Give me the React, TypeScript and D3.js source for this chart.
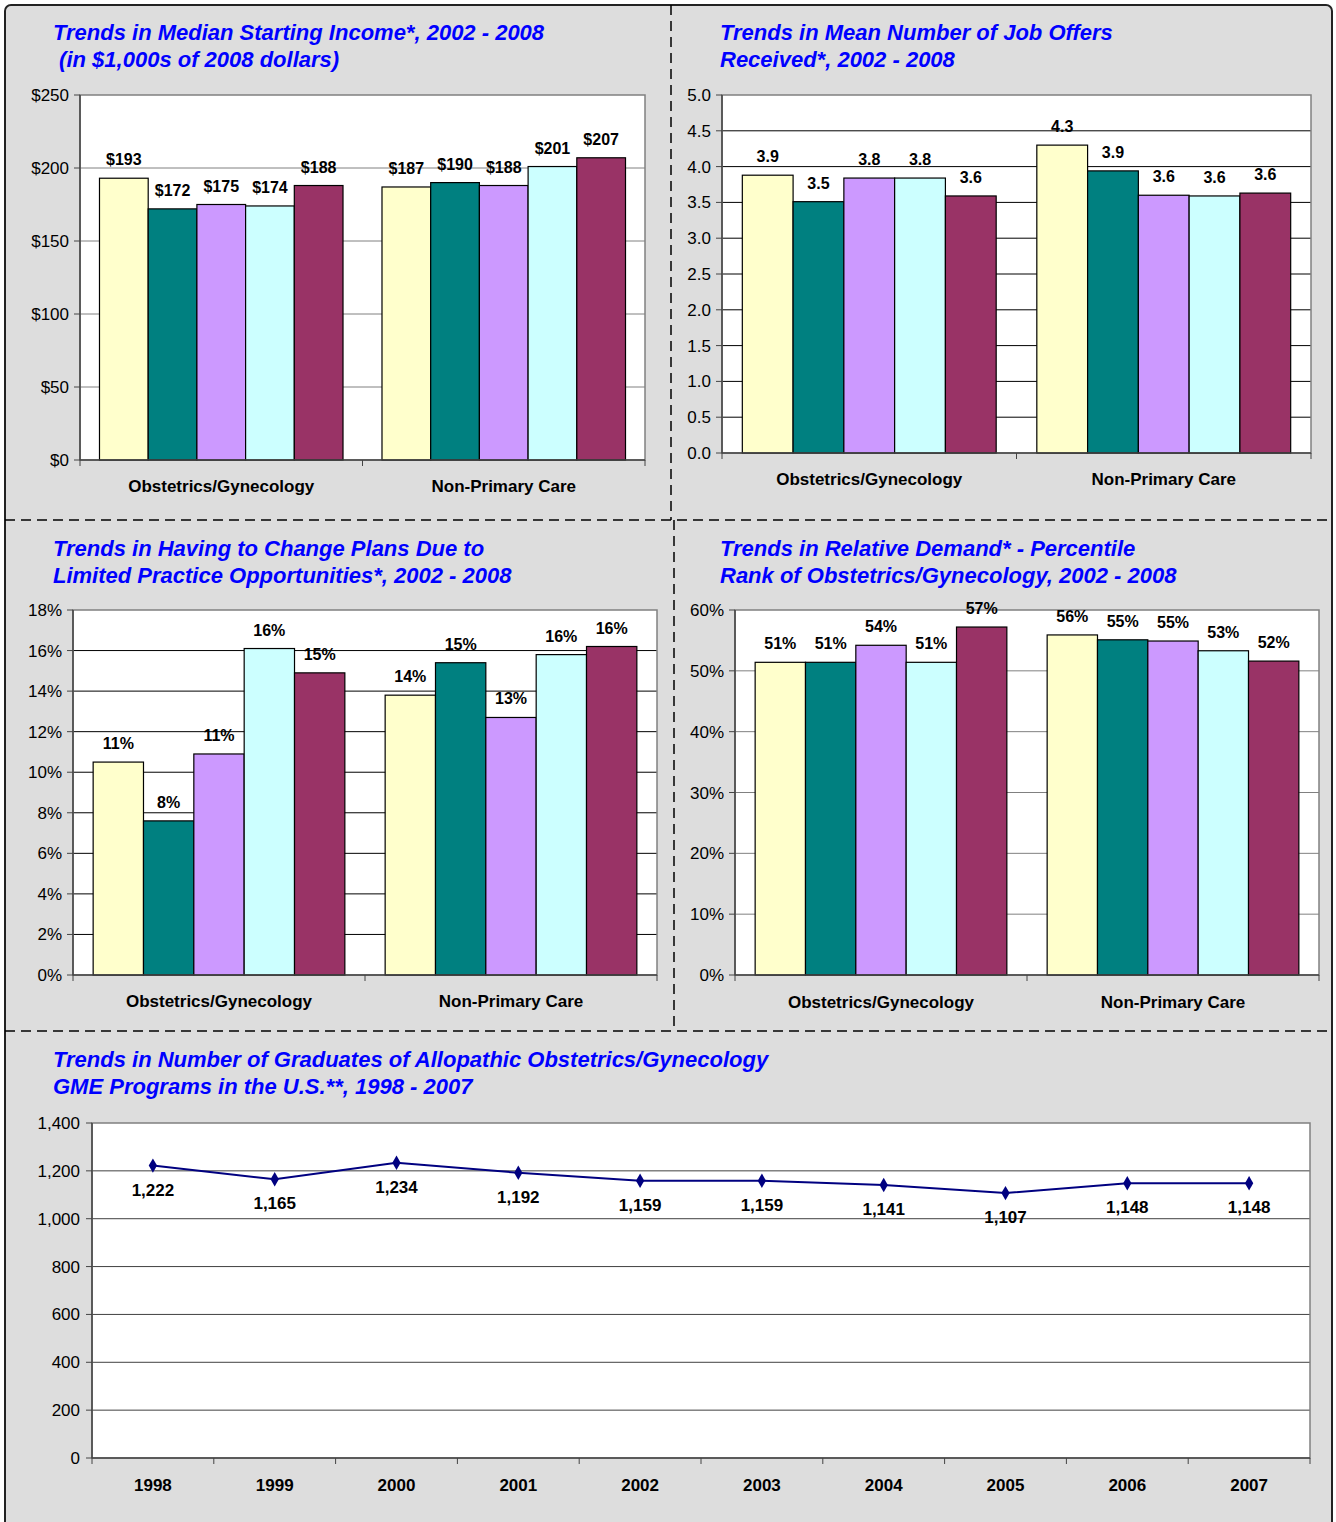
import React, { useEffect, useRef } from 'react';
import * as d3 from 'd3';

// bar series (5 survey years, no legend in the source) for each group
const groups = ['Obstetrics/Gynecology', 'Non-Primary Care'];
const seriesKeys = ['s1', 's2', 's3', 's4', 's5'];
const seriesColors = ['#FFFFCC', '#008080', '#CC99FF', '#CCFFFF', '#993366'];

const incomeOb = [193, 172, 175, 174, 188];
const incomeNp = [187, 190, 188, 201, 207];
const incomeTicks = [0, 50, 100, 150, 200, 250];

const offersOb = [3.88, 3.51, 3.84, 3.84, 3.59];
const offersNp = [4.3, 3.94, 3.6, 3.59, 3.63];
const offersTicks = [0, 0.5, 1, 1.5, 2, 2.5, 3, 3.5, 4, 4.5, 5];

const changeOb = [10.5, 7.6, 10.9, 16.1, 14.9];
const changeNp = [13.8, 15.4, 12.7, 15.8, 16.2];
const changeTicks = [0, 2, 4, 6, 8, 10, 12, 14, 16, 18];

const demandOb = [51.4, 51.4, 54.2, 51.4, 57.2];
const demandNp = [55.9, 55.1, 54.9, 53.3, 51.6];
const demandTicks = [0, 10, 20, 30, 40, 50, 60];

const gradYears = ['1998', '1999', '2000', '2001', '2002', '2003', '2004', '2005', '2006', '2007'];
const gradCounts = [1222, 1165, 1234, 1192, 1159, 1159, 1141, 1107, 1148, 1148];
const gradTicks = [0, 200, 400, 600, 800, 1000, 1200, 1400];

const FONT = '"Liberation Sans", Arial, sans-serif';
const W = 1336, H = 1522;

function drawTitle(svg, x, y, lines) {
  lines.forEach((t, i) => {
    svg.append('text')
      .attr('x', x).attr('y', y + i * 27)
      .style('font-family', FONT)
      .style('font-size', '22px')
      .style('font-weight', 'bold')
      .style('font-style', 'italic')
      .style('fill', '#0000FF')
      .attr('xml:space', 'preserve')
      .text(t);
  });
}

function drawBarPanel(svg, cfg) {
  const { left, right, top, bottom, ticks, fmt, labelFmt, data, grid, catY } = cfg;
  const g = svg.append('g');

  let y = d3.scaleLinear().domain([0, ticks[ticks.length - 1]]).range([bottom, top]);
  let x0 = d3.scaleBand().domain(groups).range([left, right]).padding(0);
  let bw = x0.bandwidth();
  let gap = bw * 0.069;
  let x1 = d3.scaleBand().domain(seriesKeys).range([gap, bw - gap]).padding(0);

  g.append('rect')
    .attr('x', left).attr('y', top)
    .attr('width', right - left).attr('height', bottom - top)
    .attr('fill', '#fff');

  // gridlines
  g.selectAll('.grid')
    .data(ticks.slice(1, -1))
    .enter().append('line')
    .attr('x1', left).attr('x2', right)
    .attr('y1', d => y(d)).attr('y2', d => y(d))
    .attr('stroke', grid).attr('stroke-width', 1);

  // plot frame
  g.append('rect')
    .attr('x', left).attr('y', top)
    .attr('width', right - left).attr('height', bottom - top)
    .attr('fill', 'none').attr('stroke', '#808080').attr('stroke-width', 1.5);

  groups.forEach((grp, gi) => {
    const vals = data[gi];
    const gg = g.append('g').attr('transform', `translate(${x0(grp)},0)`);
    gg.selectAll('rect')
      .data(vals)
      .enter().append('rect')
      .attr('x', (d, i) => x1(seriesKeys[i]))
      .attr('y', d => y(d))
      .attr('width', x1.bandwidth())
      .attr('height', d => bottom - y(d))
      .attr('fill', (d, i) => seriesColors[i])
      .attr('stroke', '#000').attr('stroke-width', 1.2);
    gg.selectAll('text')
      .data(vals)
      .enter().append('text')
      .attr('x', (d, i) => x1(seriesKeys[i]) + x1.bandwidth() / 2)
      .attr('y', d => y(d) - 13)
      .attr('text-anchor', 'middle')
      .style('font-family', FONT).style('font-size', '16px').style('font-weight', 'bold')
      .text(d => labelFmt(d));
  });

  // y axis
  g.append('line')
    .attr('x1', left).attr('x2', left).attr('y1', top).attr('y2', bottom)
    .attr('stroke', '#444').attr('stroke-width', 1.5);
  g.selectAll('.ytick')
    .data(ticks)
    .enter().append('line')
    .attr('x1', left - 6).attr('x2', left)
    .attr('y1', d => y(d)).attr('y2', d => y(d))
    .attr('stroke', '#444');
  g.selectAll('.ylab')
    .data(ticks)
    .enter().append('text')
    .attr('x', left - 11).attr('y', d => y(d) + 6)
    .attr('text-anchor', 'end')
    .style('font-family', FONT).style('font-size', '17px')
    .text(d => fmt(d));

  // x axis
  g.append('line')
    .attr('x1', left).attr('x2', right).attr('y1', bottom).attr('y2', bottom)
    .attr('stroke', '#444').attr('stroke-width', 1.5);
  g.selectAll('.xtick')
    .data([left, left + bw, right])
    .enter().append('line')
    .attr('x1', d => d).attr('x2', d => d)
    .attr('y1', bottom).attr('y2', bottom + 6)
    .attr('stroke', '#444');
  g.selectAll('.xlab')
    .data(groups)
    .enter().append('text')
    .attr('x', d => x0(d) + bw / 2).attr('y', catY)
    .attr('text-anchor', 'middle')
    .style('font-family', FONT).style('font-size', '17px').style('font-weight', 'bold')
    .text(d => d);
}

function drawLinePanel(svg) {
  const left = 92, right = 1310, top = 1123, bottom = 1458;
  const g = svg.append('g');
  let x = d3.scaleBand().domain(gradYears).range([left, right]).padding(0);
  let y = d3.scaleLinear().domain([0, 1400]).range([bottom, top]);

  g.append('rect')
    .attr('x', left).attr('y', top).attr('width', right - left).attr('height', bottom - top)
    .attr('fill', '#fff');
  g.selectAll('.grid')
    .data(gradTicks.slice(1, -1))
    .enter().append('line')
    .attr('x1', left).attr('x2', right)
    .attr('y1', d => y(d)).attr('y2', d => y(d))
    .attr('stroke', '#404040');
  g.append('rect')
    .attr('x', left).attr('y', top).attr('width', right - left).attr('height', bottom - top)
    .attr('fill', 'none').attr('stroke', '#808080').attr('stroke-width', 1.5);

  g.append('line')
    .attr('x1', left).attr('x2', left).attr('y1', top).attr('y2', bottom)
    .attr('stroke', '#444').attr('stroke-width', 1.5);
  g.selectAll('.ytick')
    .data(gradTicks)
    .enter().append('line')
    .attr('x1', left - 6).attr('x2', left)
    .attr('y1', d => y(d)).attr('y2', d => y(d))
    .attr('stroke', '#444');
  g.selectAll('.ylab')
    .data(gradTicks)
    .enter().append('text')
    .attr('x', left - 12).attr('y', d => y(d) + 6)
    .attr('text-anchor', 'end')
    .style('font-family', FONT).style('font-size', '17px')
    .text(d => d3.format(',')(d));

  g.append('line')
    .attr('x1', left).attr('x2', right).attr('y1', bottom).attr('y2', bottom)
    .attr('stroke', '#444').attr('stroke-width', 1.5);
  const bounds = gradYears.map(d => x(d)).concat([right]);
  g.selectAll('.xtick')
    .data(bounds)
    .enter().append('line')
    .attr('x1', d => d).attr('x2', d => d)
    .attr('y1', bottom).attr('y2', bottom + 6)
    .attr('stroke', '#444');
  g.selectAll('.xlab')
    .data(gradYears)
    .enter().append('text')
    .attr('x', d => x(d) + x.bandwidth() / 2).attr('y', 1491)
    .attr('text-anchor', 'middle')
    .style('font-family', FONT).style('font-size', '17px').style('font-weight', 'bold')
    .text(d => d);

  const pts = gradYears.map((yr, i) => ({ yr, v: gradCounts[i] }));
  g.append('path')
    .datum(pts)
    .attr('d', d3.line().x(d => x(d.yr) + x.bandwidth() / 2).y(d => y(d.v)))
    .attr('fill', 'none').attr('stroke', '#000080').attr('stroke-width', 2);
  g.selectAll('.pt')
    .data(pts)
    .enter().append('path')
    .attr('transform', d => `translate(${x(d.yr) + x.bandwidth() / 2},${y(d.v)})`)
    .attr('d', d3.symbol().type(d3.symbolDiamond).size(60))
    .attr('fill', '#000080');
  g.selectAll('.vlab')
    .data(pts)
    .enter().append('text')
    .attr('x', d => x(d.yr) + x.bandwidth() / 2).attr('y', d => y(d.v) + 30)
    .attr('text-anchor', 'middle')
    .style('font-family', FONT).style('font-size', '17px').style('font-weight', 'bold')
    .text(d => d3.format(',')(d.v));
}

export default function App() {
  const ref = useRef(null);

  useEffect(() => {
    const svg = d3.select(ref.current);
    svg.selectAll('*').remove();

    svg.append('rect').attr('width', W).attr('height', H).attr('fill', '#fff');
    svg.append('rect')
      .attr('x', 5).attr('y', 5).attr('width', 1327).attr('height', 1540)
      .attr('rx', 6)
      .attr('fill', '#DDDDDD').attr('stroke', '#222').attr('stroke-width', 2);

    // dashed dividers
    const dash = [[671, 5, 671, 520], [5, 520, 1332, 520], [674, 520, 674, 1031], [5, 1031, 1332, 1031]];
    svg.selectAll('.div')
      .data(dash)
      .enter().append('line')
      .attr('x1', d => d[0]).attr('y1', d => d[1]).attr('x2', d => d[2]).attr('y2', d => d[3])
      .attr('stroke', '#000').attr('stroke-width', 1.5).attr('stroke-dasharray', '10,6');

    drawTitle(svg, 53, 40, ['Trends in Median Starting Income*, 2002 - 2008', ' (in $1,000s of 2008 dollars)']);
    drawBarPanel(svg, {
      left: 80, right: 645, top: 95, bottom: 460, ticks: incomeTicks,
      fmt: d => '$' + d, labelFmt: d => '$' + Math.round(d),
      data: [incomeOb, incomeNp], grid: '#808080', catY: 492
    });

    drawTitle(svg, 720, 40, ['Trends in Mean Number of Job Offers', 'Received*, 2002 - 2008']);
    drawBarPanel(svg, {
      left: 722, right: 1311, top: 95, bottom: 453, ticks: offersTicks,
      fmt: d => d.toFixed(1), labelFmt: d => d.toFixed(1),
      data: [offersOb, offersNp], grid: '#000', catY: 485
    });

    drawTitle(svg, 53, 556, ['Trends in Having to Change Plans Due to', 'Limited Practice Opportunities*, 2002 - 2008']);
    drawBarPanel(svg, {
      left: 73, right: 657, top: 610, bottom: 975, ticks: changeTicks,
      fmt: d => d + '%', labelFmt: d => Math.round(d) + '%',
      data: [changeOb, changeNp], grid: '#000', catY: 1007
    });

    drawTitle(svg, 720, 556, ['Trends in Relative Demand* - Percentile', 'Rank of Obstetrics/Gynecology, 2002 - 2008']);
    drawBarPanel(svg, {
      left: 735, right: 1319, top: 610, bottom: 975, ticks: demandTicks,
      fmt: d => d + '%', labelFmt: d => Math.round(d) + '%',
      data: [demandOb, demandNp], grid: '#808080', catY: 1008
    });

    drawTitle(svg, 53, 1067, ['Trends in Number of Graduates of Allopathic Obstetrics/Gynecology', 'GME Programs in the U.S.**, 1998 - 2007']);
    drawLinePanel(svg);
  }, []);

  return (
    <div style={{ position: 'absolute', left: 0, top: 0 }}>
      <svg ref={ref} width={W} height={H} style={{ display: 'block' }}></svg>
    </div>
  );
}
